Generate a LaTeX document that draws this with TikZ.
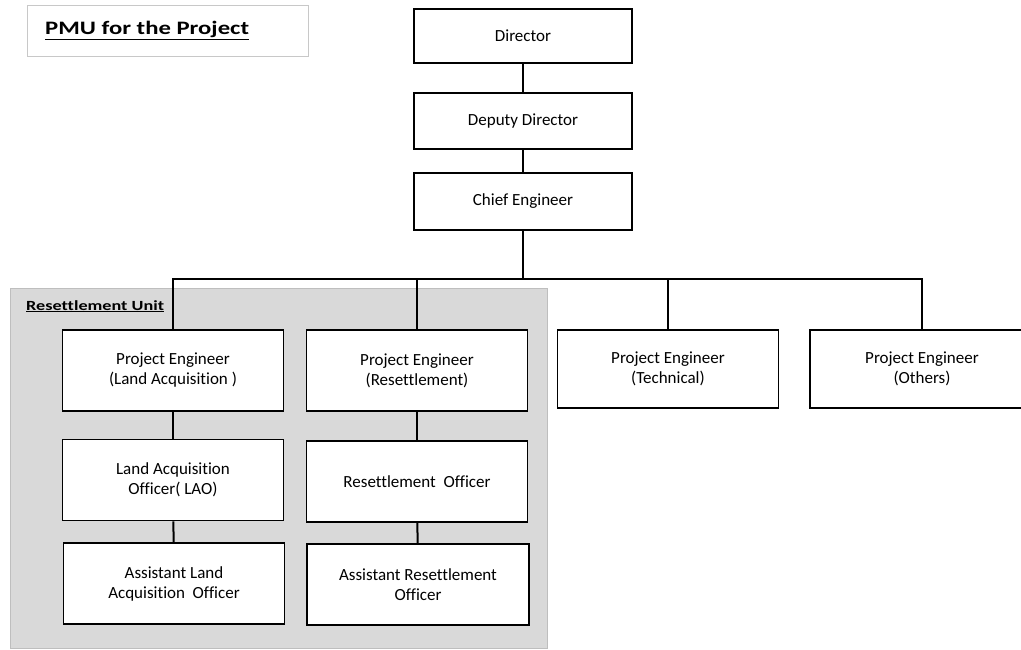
\documentclass[tikz,border=0pt]{standalone}
\usepackage{fontspec}
\setmainfont{Carlito}[Ligatures=NoCommon]
\usepackage{tikz}
\usetikzlibrary{positioning, calc}
\definecolor{unitgray}{RGB}{217,217,217}
\definecolor{unitedge}{RGB}{190,190,190}
\definecolor{titleedge}{RGB}{200,200,200}
\newcommand{\widebold}[1]{\scalebox{1.3}[1]{\bfseries\underline{#1}}}
\tikzset{
  post/.style={rectangle, draw=black, fill=white, line width=1.8pt,
    minimum width=221pt, minimum height=81pt, inner sep=2pt,
    align=center, font=\fontsize{17}{20}\selectfont},
  conn/.style={line width=2pt, color=black},
  title/.style={inner sep=0pt, font=\fontsize{19}{22}\selectfont},
  unitlabel/.style={inner sep=0pt, font=\fontsize{14}{16}\selectfont}
}
\begin{document}
\begin{tikzpicture}[x=1pt, y=-1pt]
  \useasboundingbox (0,0) rectangle (1021,650);

  % title box
  \draw[titleedge, line width=0.8pt] (27,5) rectangle (308,56);
  \node[title, anchor=base west] (pmu) at (45,35) {\widebold{PMU for the Project}};

  % resettlement unit
  \draw[unitedge, fill=unitgray, line width=0.8pt] (10,288) rectangle (547,648);
  \node[unitlabel, anchor=base west] (unit) at (26,310) {\widebold{Resettlement Unit}};

  % top of the chain
  \node[post, minimum width=218pt, minimum height=54pt] (dir) at (523,36) {Director};
  \node[post, minimum width=218pt, minimum height=56pt] (depdir) at (523,121) {Deputy Director};
  \node[post, minimum width=218pt, minimum height=57pt] (chief) at (523,201.5) {Chief Engineer};
  \coordinate (bus) at (523,279);

  \draw[conn] (dir) -- (depdir);
  \draw[conn] (depdir) -- (chief);
  \draw[conn] (chief) -- (bus);

  % project engineers
  \node[post] (pela) at (173,370.5) {Project Engineer\\(Land Acquisition )};
  \node[post] (peres) at (417,370.5) {Project Engineer\\(Resettlement)};
  \node[post, minimum height=78pt] (petech) at (668,369) {Project Engineer\\(Technical)};
  \node[post, minimum height=78pt, minimum width=224pt] (peoth) at (922,369) {Project Engineer\\(Others)};

  \foreach \pe in {pela, peres, petech, peoth}
    \draw[conn] (\pe.north) |- (bus);

  % officers
  \node[post] (lao) at (173,480) {Land Acquisition\\Officer( LAO)};
  \node[post] (reso) at (417,481.5) {Resettlement \ Officer};
  \node[post] (alao) at (174,583.5) {Assistant Land\\Acquisition \ Officer};
  \node[post, minimum width=222pt] (areso) at (418,584.5) {Assistant Resettlement\\Officer};

  \draw[conn] (pela) -- (lao);
  \draw[conn] (lao) -- (alao);
  \draw[conn] (peres) -- (reso);
  \draw[conn] (reso) -- (areso);
\end{tikzpicture}
\end{document}
